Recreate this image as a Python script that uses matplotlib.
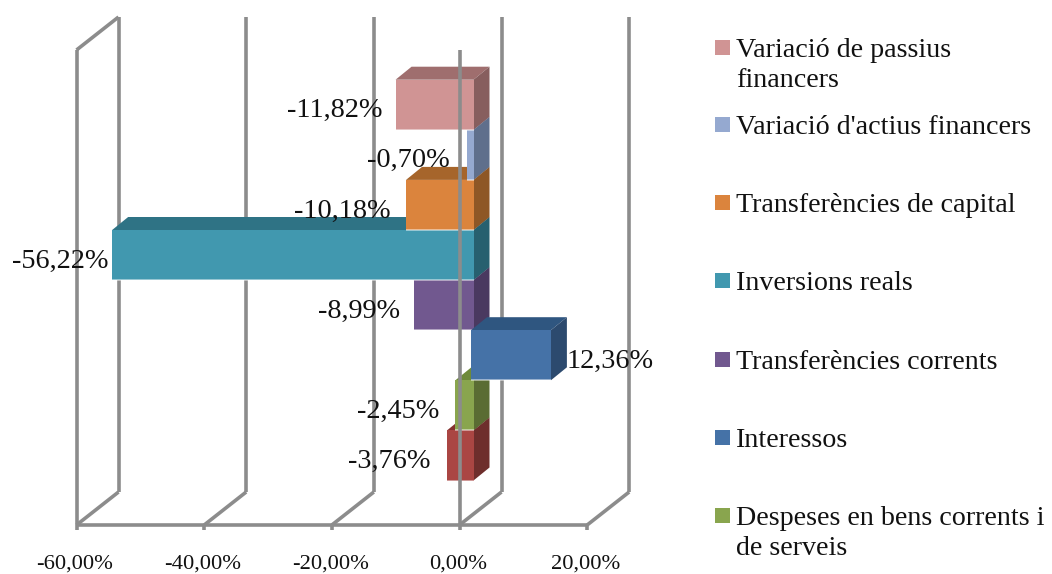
"""
Despeses per capitol: oblique 3D style horizontal bars, drawn with plain polygons.
"""

import matplotlib
matplotlib.use("Agg")
import matplotlib.pyplot as plt
from matplotlib.patches import Polygon, Rectangle
from matplotlib.transforms import Affine2D

categories = [
    "Despeses de personal",
    "Despeses en bens corrents i\nde serveis",
    "Interessos",
    "Transferències corrents",
    "Inversions reals",
    "Transferències de capital",
    "Variació d'actius financers",
    "Variació de passius\nfinancers",
]
values = [-3.76, -2.45, 12.36, -8.99, -56.22, -10.18, -0.70, -11.82]
value_labels = ["-3,76%", "-2,45%", "12,36%", "-8,99%", "-56,22%", "-10,18%", "-0,70%", "-11,82%"]
tick_values = [-60, -40, -20, 0, 20]
tick_labels = ["-60,00%", "-40,00%", "-20,00%", "0,00%", "20,00%"]

front_colors = ["#AA4643", "#89A54E", "#4572A7", "#71588F", "#4198AF", "#DB843D", "#95A9D0", "#D09494"]
top_colors = ["#85312F", "#6E8A3A", "#2F5680", "#5A4672", "#2F7385", "#A6652B", "#7A8BAD", "#9F6E6E"]
side_colors = ["#6E2E2C", "#5A6C33", "#2C4A6E", "#4A3960", "#27606F", "#8E5726", "#5F6F8C", "#875E5E"]

# blue bar sits over its neighbours, otherwise the upper bar hides the lower one
draw_order = [0, 1, 3, 2, 4, 5, 6, 7]
label_nudge = [-16, -16, 1, -13, -4, -15, -17, -13]

W, H = 1052, 574
GRAY = "#8C8C8C"
SERIF = "Liberation Serif"

# layout in reference pixels
PX_PER_PCT = 6.383
PX_PER_BAND = 50.1
ZERO_X = 459.5
BAR_BOTTOM_Y = 480.5
BAR_SHIFT = 11.5
WALL_DX, WALL_DY = 42, 33
BAR_DX, BAR_DY = 16, 13
FLOOR_Y, TOP_Y = 525, 50

fig = plt.figure(figsize=(W / 100, H / 100), dpi=100)
ax = fig.add_axes([0, 0, 1, 1])
ax.set_xlim(-ZERO_X / PX_PER_PCT, (W - ZERO_X) / PX_PER_PCT)
ax.set_ylim((BAR_BOTTOM_Y - H) / PX_PER_BAND, BAR_BOTTOM_Y / PX_PER_BAND)
ax.axis("off")

# pixels with origin top-left, for the legend
px = Affine2D().scale(1 / W, -1 / H).translate(0, 1) + fig.transFigure


def dx(p):
    return p / PX_PER_PCT


def dy(p):
    return p / PX_PER_BAND


def band(y_px):
    return (BAR_BOTTOM_Y - y_px) / PX_PER_BAND


def gray_line(xs, ys, z=1, lw=2.6):
    ax.plot(xs, ys, color=GRAY, lw=lw, solid_capstyle="butt", zorder=z)


# back wall, floor and left side
floor, top = band(FLOOR_Y), band(TOP_Y)
for t in tick_values:
    back = t + dx(WALL_DX)
    gray_line([back, back], [floor + dy(WALL_DY), top + dy(WALL_DY)])
    gray_line([t, back], [floor, floor + dy(WALL_DY)])
    gray_line([t, t], [floor, floor - dy(5)])
    ax.text(t - dx(1.5), band(564), tick_labels[tick_values.index(t)], family=SERIF, fontsize=16.2,
            ha="center", va="center", color="#111111")
gray_line([tick_values[0], tick_values[-1]], [floor, floor])
gray_line([-60, -60], [floor, top])
gray_line([-60, -60 + dx(WALL_DX)], [top, top + dy(WALL_DY)])

# bars
shift = dx(BAR_SHIFT)
for n, i in enumerate(draw_order):
    v = values[i]
    left, right = min(v, 0) + shift, max(v, 0) + shift
    if v < 0:
        right += dx(2.5)
    else:
        right += dx(1)
    ddx, ddy = dx(BAR_DX), dy(BAR_DY)
    z = 2 + n
    ax.add_patch(Polygon([(left, i + 1), (right, i + 1), (right + ddx, i + 1 + ddy), (left + ddx, i + 1 + ddy)],
                         fc=top_colors[i], ec="none", zorder=z))
    ax.add_patch(Polygon([(right, i), (right + ddx, i + ddy), (right + ddx, i + 1 + ddy), (right, i + 1)],
                         fc=side_colors[i], ec="none", zorder=z))
    ax.add_patch(Rectangle((left, i), right - left, 1, fc=front_colors[i], ec="none", zorder=z))
    # pale rim along the lower edge of the front face
    ax.plot([left, right], [i, i], color="white", alpha=0.55, lw=1.2, zorder=z, solid_capstyle="butt")

# zero line runs in front of the bars
gray_line([0, 0], [floor, top], z=20)

# value labels
for i, v in enumerate(values):
    if v < 0:
        x, ha = v + shift + dx(label_nudge[i]), "right"
    else:
        x, ha = v + shift + dx(BAR_DX + label_nudge[i]), "left"
    ax.text(x, i + 0.38, value_labels[i], family=SERIF, fontsize=20.3, ha=ha, va="center",
            color="#111111", zorder=30)

# legend, the last category falls off the bottom of the image in the reference
legend_y = [47, 124, 202, 280, 359, 437, 515]
for y, i in zip(legend_y, range(len(categories) - 1, -1, -1)):
    fig.add_artist(Rectangle((715, y - 7.5), 15, 15, fc=front_colors[i], ec="none", transform=px))
    fig.text(736, y - 9, categories[i], family=SERIF, fontsize=20.2, ha="left", va="top",
             color="#111111", transform=px, linespacing=1.24)

fig.savefig("out.png", dpi=100)
plt.close(fig)
